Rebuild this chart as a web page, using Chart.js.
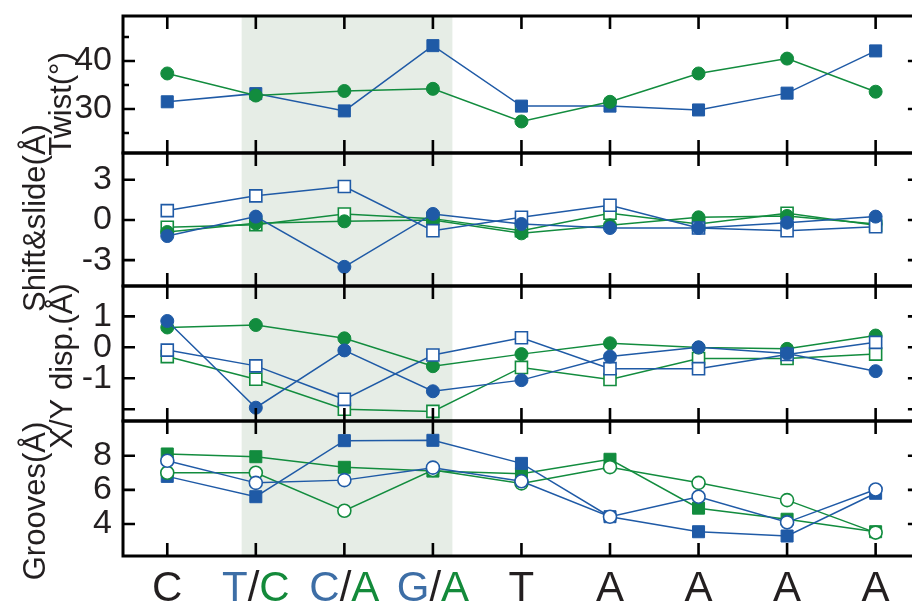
<!DOCTYPE html>
<html><head><meta charset="utf-8">
<script src="https://cdn.jsdelivr.net/npm/chart.js@4/dist/chart.umd.min.js"></script>
<style>
html,body{margin:0;padding:0;overflow:hidden;background:#fff;width:912px;height:605px}
#wrap{position:absolute;left:0;top:0;width:930px;height:605px}
</style>
</head><body><div id="wrap"><canvas id="c" width="930" height="605"></canvas></div>
<script>
// ---- categories / x labels ----
const categories = ['C','T/C','C/A','G/A','T','A','A','A','A'];
const labelColorKeys = ['k','bkg','bkg','bkg','k','k','k','k','k']; // per character colour: b=blue, k=black, g=green
const shadeSpan = [0.84, 3.22];

// ---- Panel 1: Twist (deg) ----
const twistBlueSq   = [31.5, 33.2, 29.6, 43.2, 30.6, 30.6, 29.8, 33.3, 42.1];
const twistGreenCir = [37.4, 32.8, 33.75, 34.2, 27.4, 31.5, 37.4, 40.5, 33.6];
const twistTicks = [30, 40], twistMinor = [25, 35, 45];

// ---- Panel 2: Shift & slide (A) ----
const ssBlueOpenSq   = [0.7, 1.8, 2.5, -0.8, 0.2, 1.1, -0.6, -0.8, -0.5];
const ssBlueCir      = [-1.2, 0.25, -3.5, 0.45, -0.3, -0.6, -0.6, -0.2, 0.25];
const ssGreenOpenSq  = [-0.55, -0.35, 0.45, 0.1, -0.8, 0.5, -0.3, 0.5, -0.4];
const ssGreenCir     = [-0.9, -0.25, -0.1, 0.0, -1.0, -0.4, 0.2, 0.3, -0.3];
const ssTicks = [-3, 0, 3], ssMinor = [];

// ---- Panel 3: X/Y disp. (A) ----
const xyBlueCir     = [0.85, -1.95, -0.1, -1.42, -1.06, -0.3, 0.0, -0.2, -0.77];
const xyBlueOpenSq  = [-0.09, -0.6, -1.68, -0.25, 0.31, -0.69, -0.69, -0.23, 0.16];
const xyGreenCir    = [0.64, 0.72, 0.29, -0.61, -0.22, 0.13, -0.01, -0.05, 0.38];
const xyGreenOpenSq = [-0.3, -1.03, -2.0, -2.07, -0.65, -1.04, -0.36, -0.36, -0.22];
const xyTicks = [-1, 0, 1], xyMinor = [-2];

// ---- Panel 4: Grooves (A) ----
const grBlueSq       = [6.79, 5.6, 8.88, 8.9, 7.55, 4.43, 3.55, 3.3, 5.8];
const grBlueOpenCir  = [7.7, 6.41, 6.57, 7.3, 6.5, 4.43, 5.6, 4.1, 6.02];
const grGreenSq      = [8.1, 7.94, 7.32, 7.1, 6.95, 7.79, 4.93, 4.28, 3.55];
const grGreenOpenCir = [7.0, 7.0, 4.78, 7.16, 6.38, 7.33, 6.41, 5.4, 3.5];
const grTicks = [4, 6, 8], grMinor = [];

const BLUE = '#1f5aa6', GREEN = '#128c3e';
const LBLUE = '#3d6ea6', LGREEN = '#138a3a', BLACK = '#231f20';
const FONT = "'Liberation Sans', Arial, sans-serif";

function series(vals, axis, color, style, filled) {
  return {
    data: vals.map((v, i) => ({x: i, y: v})),
    yAxisID: axis,
    borderColor: color,
    borderWidth: 1.5,
    pointStyle: style,
    pointRadius: style === 'rect' ? 8.5 : 6.5,
    pointBackgroundColor: filled ? color : '#ffffff',
    pointBorderColor: color,
    pointBorderWidth: filled ? 1 : 1.6,
    tension: 0,
    clip: false
  };
}

const datasets = [
  series(twistGreenCir, 'y1', GREEN, 'circle', true),
  series(twistBlueSq, 'y1', BLUE, 'rect', true),

  series(ssBlueCir, 'y2', BLUE, 'circle', true),
  series(ssBlueOpenSq, 'y2', BLUE, 'rect', false),
  series(ssGreenCir, 'y2', GREEN, 'circle', true),
  series(ssGreenOpenSq, 'y2', GREEN, 'rect', false),

  series(xyBlueCir, 'y3', BLUE, 'circle', true),
  series(xyBlueOpenSq, 'y3', BLUE, 'rect', false),
  series(xyGreenCir, 'y3', GREEN, 'circle', true),
  series(xyGreenOpenSq, 'y3', GREEN, 'rect', false),

  series(grBlueOpenCir, 'y4', BLUE, 'circle', false),
  series(grGreenOpenCir, 'y4', GREEN, 'circle', false),
  series(grBlueSq, 'y4', BLUE, 'rect', true),
  series(grGreenSq, 'y4', GREEN, 'rect', true)
];

const panels = [
  {id: 'y1', major: twistTicks, minor: twistMinor, title: 'Twist(°)', tx: 71, ty: 104},
  {id: 'y2', major: ssTicks, minor: ssMinor, title: 'Shift&slide(Å)', tx: 45, ty: 218},
  {id: 'y3', major: xyTicks, minor: xyMinor, title: 'X/Y disp.(Å)', tx: 72, ty: 366},
  {id: 'y4', major: grTicks, minor: grMinor, title: 'Grooves(Å)', tx: 45, ty: 501}
];

function yAxis(min, max, ticks, weight, stackWeight) {
  return {
    type: 'linear', position: 'left', stack: 'panels', stackWeight: stackWeight, weight: weight,
    min: min, max: max,
    grid: {display: false, drawTicks: false},
    border: {display: false},
    afterBuildTicks: s => { s.ticks = ticks.map(v => ({value: v})); },
    afterFit: s => { s.width = 123; s.paddingTop = 0; s.paddingBottom = 0; },
    ticks: {padding: 11, autoSkip: false, color: BLACK, font: {family: FONT, size: 34}}
  };
}

const framePlugin = {
  id: 'frame',
  beforeDatasetsDraw(chart) {
    const ctx = chart.ctx, ca = chart.chartArea, xs = chart.scales.x;
    const x0 = xs.getPixelForValue(shadeSpan[0]), x1 = xs.getPixelForValue(shadeSpan[1]);
    ctx.save();
    ctx.fillStyle = '#e6ede6';
    ctx.fillRect(x0, ca.top, x1 - x0, ca.bottom - ca.top);
    ctx.restore();
  },
  afterDatasetsDraw(chart) {
    const ctx = chart.ctx, ca = chart.chartArea, xs = chart.scales.x;
    ctx.save();
    ctx.strokeStyle = '#000';
    ctx.lineCap = 'butt';
    panels.forEach(p => {
      const s = chart.scales[p.id];
      ctx.lineWidth = 3;
      ctx.strokeRect(ca.left, s.top, ca.right - ca.left, s.bottom - s.top);
      ctx.lineWidth = 2.6;
      ctx.beginPath();
      const tickY = (v, len) => {
        const y = s.getPixelForValue(v);
        ctx.moveTo(ca.left, y); ctx.lineTo(ca.left + len, y);
        ctx.moveTo(ca.right, y); ctx.lineTo(ca.right - len, y);
      };
      p.major.forEach(v => tickY(v, 12));
      p.minor.forEach(v => tickY(v, p.id === 'y3' ? 12 : 6));
      categories.forEach((c, i) => {
        const x = xs.getPixelForValue(i);
        ctx.moveTo(x, s.top); ctx.lineTo(x, s.top + 13);
        ctx.moveTo(x, s.bottom); ctx.lineTo(x, s.bottom - 13);
      });
      ctx.stroke();
    });
    ctx.restore();
  },
  afterDraw(chart) {
    const ctx = chart.ctx, xs = chart.scales.x;
    ctx.save();
    ctx.fillStyle = BLACK;
    ctx.font = '31px ' + FONT;
    ctx.textAlign = 'center';
    ctx.textBaseline = 'alphabetic';
    panels.forEach(p => {
      ctx.save();
      ctx.translate(p.tx, p.ty);
      ctx.rotate(-Math.PI / 2);
      ctx.fillText(p.title, 0, 0);
      ctx.restore();
    });
    ctx.font = '42px ' + FONT;
    ctx.textAlign = 'left';
    const colMap = {b: LBLUE, k: BLACK, g: LGREEN};
    categories.forEach((c, i) => {
      const x = xs.getPixelForValue(i);
      const w = ctx.measureText(c).width;
      let cx = x - w / 2;
      const keys = labelColorKeys[i];
      for (let j = 0; j < c.length; j++) {
        ctx.fillStyle = colMap[keys[j] || 'k'];
        ctx.fillText(c[j], cx, 601);
        cx += ctx.measureText(c[j]).width;
      }
    });
    ctx.restore();
  }
};

new Chart(document.getElementById('c'), {
  type: 'line',
  data: {datasets: datasets},
  options: {
    responsive: false,
    animation: false,
    events: [],
    layout: {padding: {top: 16, right: 8, left: 0, bottom: 0}},
    plugins: {legend: {display: false}, tooltip: {enabled: false}},
    scales: {
      x: {
        type: 'linear', min: -0.5, max: 8.5, position: 'bottom',
        grid: {display: false, drawTicks: false},
        border: {display: false},
        ticks: {display: false},
        afterFit: s => { s.height = 49; s.paddingLeft = 0; s.paddingRight = 0; }
      },
      y1: yAxis(20.83, 49.375, twistTicks, 4, 137),
      y2: yAxis(-4.93, 5.0, ssTicks, 3, 133),
      y3: yAxis(-2.38, 1.98, xyTicks, 2, 135),
      y4: yAxis(2.13, 10.03, grTicks, 1, 135)
    }
  },
  plugins: [framePlugin]
});
</script>
</body></html>
